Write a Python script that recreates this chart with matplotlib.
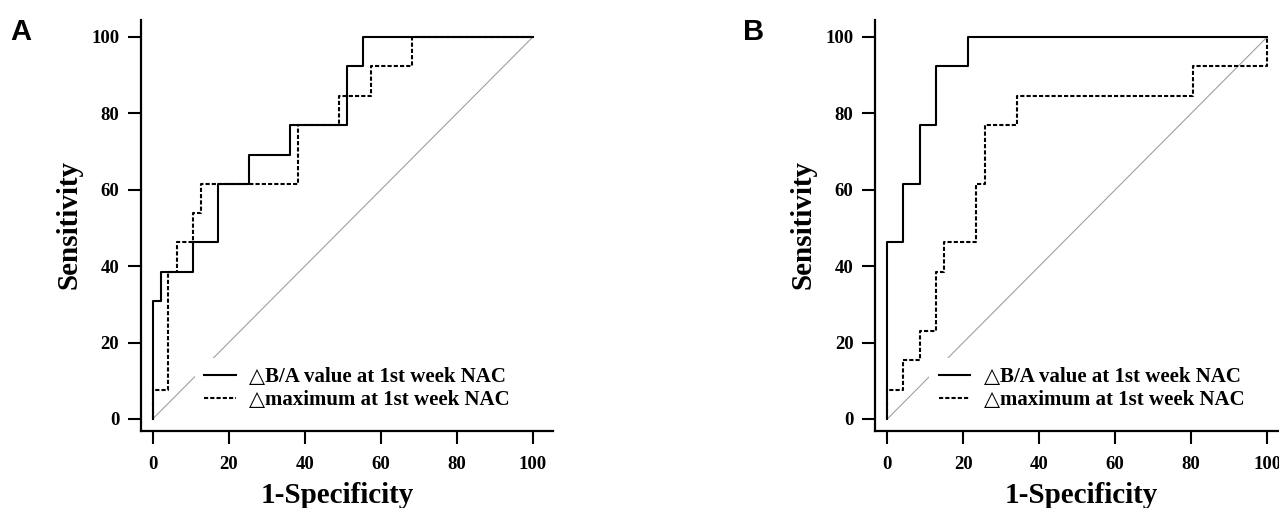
import matplotlib
matplotlib.use("Agg")
import matplotlib.pyplot as plt

# ROC corner points (1-specificity %, sensitivity %), drawn as post-steps
a_ba_fpr = [0, 0, 2.1, 10.5, 17.2, 25.4, 36.1, 51.1, 55.2, 100]
a_ba_tpr = [0, 30.8, 38.5, 46.2, 61.5, 69.2, 76.9, 92.3, 100, 100]
a_max_fpr = [0, 0, 4.1, 6.3, 10.5, 12.6, 38.3, 48.9, 57.5, 68.3, 100]
a_max_tpr = [0, 7.7, 38.5, 46.2, 53.8, 61.5, 76.9, 84.6, 92.3, 100, 100]

b_ba_fpr = [0, 0, 4.2, 8.6, 12.9, 21.2, 100]
b_ba_tpr = [0, 46.2, 61.5, 76.9, 92.3, 100, 100]
b_max_fpr = [0, 0, 4.2, 8.6, 12.9, 15.0, 23.4, 25.6, 34.1, 80.6, 100]
b_max_tpr = [0, 7.7, 15.4, 23.1, 38.5, 46.2, 61.5, 76.9, 84.6, 92.3, 100]

ticks = [0, 20, 40, 60, 80, 100]
legend_labels = ["\u25b3B/A value at 1st week NAC", "\u25b3maximum at 1st week NAC"]
panel_letters = ["A", "B"]

serif = ["Liberation Serif", "DejaVu Serif"]

fig = plt.figure(figsize=(12.79, 5.08), dpi=100)

panels = [
    (0.1100, (a_ba_fpr, a_ba_tpr), (a_max_fpr, a_max_tpr), (-3.16, 105.3), 0.476),
    (0.6841, (b_ba_fpr, b_ba_tpr), (b_max_fpr, b_max_tpr), (-3.24, 105.3), 0.50),
]

for i, (left, solid, dashed, xlim, xlab_x) in enumerate(panels):
    ax = fig.add_axes([left, 0.1522, 0.3224, 0.8085])
    ax.plot([0, 100], [0, 100], color="#a0a0a0", lw=0.8, zorder=1)
    ax.plot(solid[0], solid[1], drawstyle="steps-post", color="black", lw=1.5,
            label=legend_labels[0], zorder=2)
    ax.plot(dashed[0], dashed[1], drawstyle="steps-post", color="black", lw=1.5,
            dashes=(2, 1), label=legend_labels[1], zorder=2)

    ax.set_xlim(*xlim)
    ax.set_ylim(-3.06, 104.45)
    ax.set_xticks(ticks)
    ax.set_yticks(ticks)
    for side in ["top", "right"]:
        ax.spines[side].set_visible(False)
    for side in ["left", "bottom"]:
        ax.spines[side].set_linewidth(1.6)
        ax.spines[side].set_capstyle("projecting")
    ax.tick_params(direction="out", length=9.5, width=1.5, labelsize=13.5, pad=6)
    ax.tick_params(axis="x", pad=9)
    for lab in ax.get_xticklabels() + ax.get_yticklabels():
        lab.set_family(serif)
        lab.set_fontweight("bold")

    ax.text(-0.175, 0.503, "Sensitivity", transform=ax.transAxes, rotation=90,
            ha="center", va="center", fontsize=21, fontweight="bold", family=serif)
    ax.text(xlab_x, -0.159, "1-Specificity", transform=ax.transAxes,
            ha="center", va="center", fontsize=21, fontweight="bold", family=serif)

    leg = ax.legend(loc="upper left", bbox_to_anchor=(0.132, 0.177), borderaxespad=0,
                    frameon=True, fancybox=False, framealpha=1, edgecolor="none",
                    prop={"family": serif, "weight": "bold", "size": 15},
                    handlelength=1.5, handletextpad=0.65, borderpad=0.45,
                    labelspacing=0.15)
    leg.set_zorder(3)

    # panel letter
    fig.text(0.0078 if i == 0 else 0.581, 0.9213, panel_letters[i], ha="left",
             va="baseline", fontsize=21, fontweight="bold", family="Liberation Sans")

fig.savefig("out.png", dpi=100)
